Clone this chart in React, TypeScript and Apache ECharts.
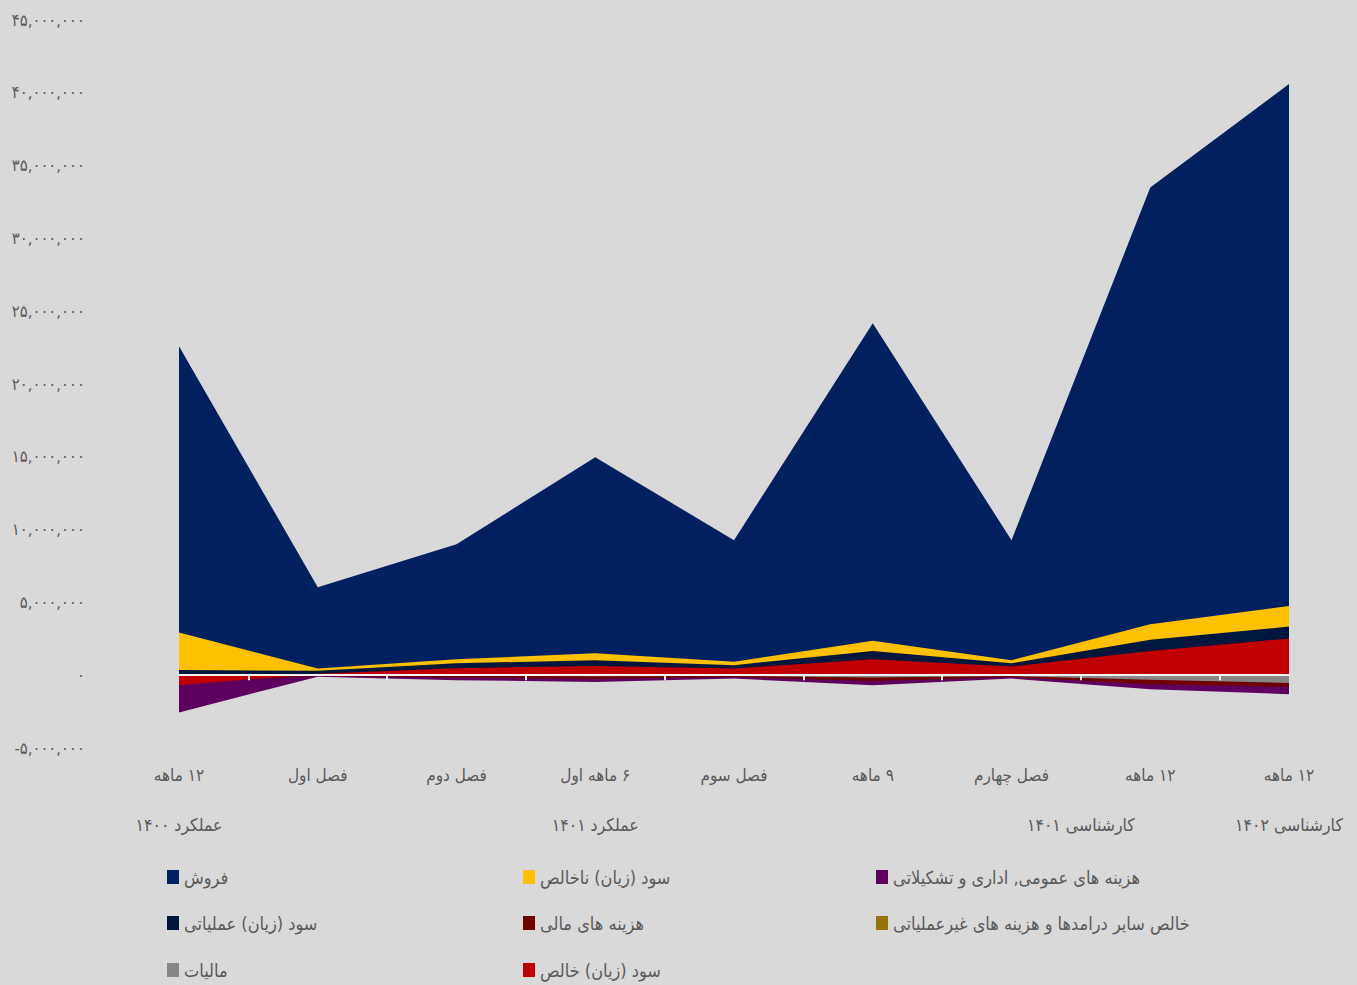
import React, { useEffect, useRef } from "react";
import * as echarts from "echarts";

const categories = ["۱۲ ماهه", "فصل اول", "فصل دوم", "۶ ماهه اول", "فصل سوم", "۹ ماهه", "فصل چهارم", "۱۲ ماهه", "۱۲ ماهه"];
const groupLabels = ["عملکرد ۱۴۰۰", "عملکرد ۱۴۰۱", "کارشناسی ۱۴۰۱", "کارشناسی ۱۴۰۲"];
const groupFirst = [0, 1, 6, 8];
const groupLast = [0, 5, 7, 8];

const sales = [22600000, 6040000, 9000000, 14970000, 9270000, 24180000, 9270000, 33500000, 40600000];
const grossProfit = [2930000, 460000, 1100000, 1510000, 920000, 2360000, 1030000, 3500000, 4760000];
const adminCosts = [-2560000, -100000, -340000, -460000, -230000, -690000, -230000, -960000, -1300000];
const operatingProfit = [360000, 300000, 820000, 1030000, 690000, 1670000, 820000, 2430000, 3340000];
const financeCosts = [-500000, -50000, -150000, -250000, -120000, -390000, -120000, -620000, -800000];
const otherIncome = [-100000, 0, 50000, 80000, 40000, 100000, 50000, 150000, 200000];
const taxes = [-100000, 0, -50000, -80000, -50000, -150000, -60000, -320000, -530000];
const netProfit = [-690000, 100000, 480000, 640000, 460000, 1100000, 600000, 1670000, 2520000];

const seriesNames = [
  "فروش",
  "سود (زیان) ناخالص",
  "هزینه های عمومی, اداری و تشکیلاتی",
  "سود (زیان) عملیاتی",
  "هزینه های مالی",
  "خالص سایر درامدها و هزینه های غیرعملیاتی",
  "مالیات",
  "سود (زیان) خالص",
];
const seriesData = [sales, grossProfit, adminCosts, operatingProfit, financeCosts, otherIncome, taxes, netProfit];
const seriesColors = ["#002060", "#FFC000", "#5E005E", "#00173D", "#6E0000", "#997300", "#878787", "#C00000"];

const FONT = "'DejaVu Sans Condensed', 'DejaVu Sans', sans-serif";
const TEXT = "#595959";
const RLM = "\u200F";

const toFa = (n: number) =>
  n.toLocaleString("en-US").replace(/\d/g, (d) => "۰۱۲۳۴۵۶۷۸۹"[+d]);

export default function App() {
  const ref = useRef<HTMLDivElement>(null);
  useEffect(() => {
    if (!ref.current) return;
    const chart = echarts.init(ref.current, null, { renderer: "svg" });
    const legendCols = [167, 523, 876];
    const legendRows = [867, 913, 960];
    const legends = seriesNames.map((name, i) => ({
      orient: "horizontal" as const,
      left: legendCols[i % 3],
      top: legendRows[Math.floor(i / 3)],
      padding: 0,
      icon: "rect",
      itemWidth: 12,
      itemHeight: 14,
      itemGap: 8,
      data: [name],
      textStyle: { color: TEXT, fontSize: 18, fontFamily: FONT, lineHeight: 20 },
    }));
    chart.setOption({
      animation: false,
      backgroundColor: "#D9D9D9",
      grid: { left: 179, right: 68, top: 20, bottom: 237 },
      legend: legends,
      xAxis: [
        {
          type: "category",
          data: categories,
          boundaryGap: false,
          position: "bottom",
          axisLine: { show: false, onZero: false },
          axisTick: { show: false },
          axisLabel: {
            color: TEXT,
            fontSize: 17,
            fontFamily: FONT,
            margin: 18,
            interval: 0,
            formatter: (v: string) => RLM + v,
          },
        },
        {
          type: "category",
          data: categories.slice(1).map((_, i) => "t" + i),
          boundaryGap: true,
          position: "bottom",
          z: 10,
          axisLine: { show: true, onZero: true, lineStyle: { color: "#F2F2F2", width: 2 } },
          axisTick: { show: true, alignWithLabel: true, length: 5, lineStyle: { color: "#F2F2F2", width: 2 } },
          axisLabel: { show: false },
        },
      ],
      yAxis: {
        type: "value",
        min: -5000000,
        max: 45000000,
        interval: 5000000,
        axisLine: { show: false },
        axisTick: { show: false },
        splitLine: { show: false },
        axisLabel: {
          color: TEXT,
          fontSize: 16.5,
          fontFamily: FONT,
          margin: 94,
          padding: [0, 0, 6, 0],
          formatter: (v: number) => toFa(v),
        },
      },
      series: seriesNames.map((name, i) => ({
        name,
        type: "line",
        xAxisIndex: 0,
        data: seriesData[i],
        symbol: "none",
        lineStyle: { width: 0 },
        itemStyle: { color: seriesColors[i] },
        areaStyle: { color: seriesColors[i], opacity: 1 },
        z: 2 + i * 0.01,
      })),
    });
    const px = (idx: number) => {
      const a = Math.floor(idx);
      const b = Math.ceil(idx);
      const pa = chart.convertToPixel({ xAxisIndex: 0 }, a) as number;
      const pb = chart.convertToPixel({ xAxisIndex: 0 }, b) as number;
      return pa + (pb - pa) * (idx - a);
    };
    chart.setOption({
      graphic: groupLabels.map((text, i) => ({
        type: "text",
        x: px((groupFirst[i] + groupLast[i]) / 2),
        y: 825,
        style: {
          text: RLM + text,
          fill: TEXT,
          fontSize: 17.5,
          fontFamily: FONT,
          textAlign: "center",
          textVerticalAlign: "middle",
        },
      })),
    });
    return () => chart.dispose();
  }, []);
  return (
    <div
      ref={ref}
      style={{ position: "absolute", left: 0, top: 0, width: 1357, height: 985, background: "#D9D9D9" }}
    />
  );
}
